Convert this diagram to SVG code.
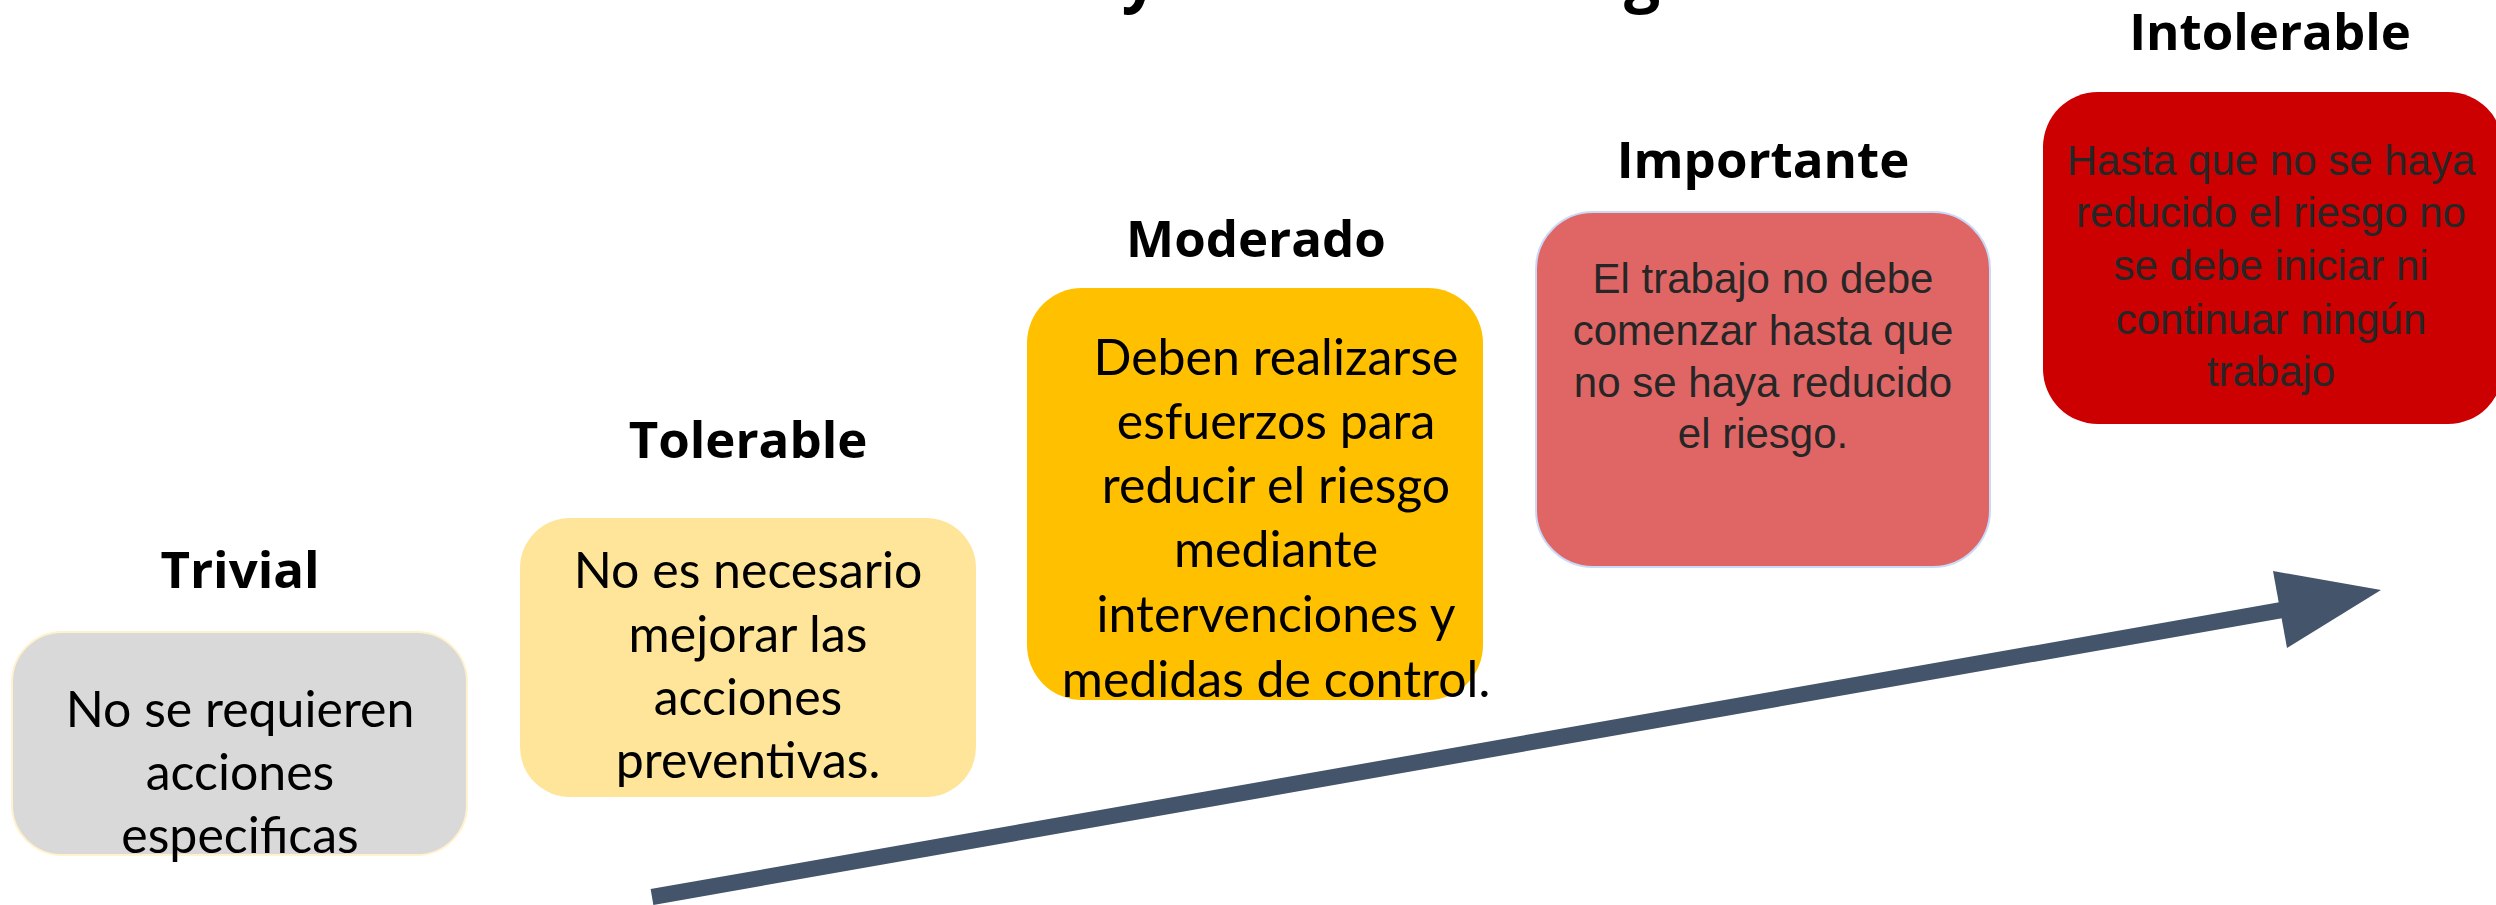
<svg xmlns="http://www.w3.org/2000/svg" width="2496" height="905" viewBox="0 0 2496 905">
<style>
.title{font-family:"Open Sans","Noto Sans",sans-serif;font-weight:700;font-size:51px;fill:#000;text-anchor:middle}
.body{font-family:Lato,"Open Sans",sans-serif;font-size:50px;fill:#000;text-anchor:middle}
.arial{font-family:"Liberation Sans",Arial,sans-serif;font-size:42px;fill:#262626;text-anchor:middle}
</style>
<rect width="2496" height="905" fill="#ffffff"/>
<g id="title-fragments">
<text x="1140" y="-1" class="title" style="font-size:64px">y</text>
<text x="1642" y="-1" class="title" style="font-size:64px">g</text>
</g>
<g id="connectors">
<line x1="652" y1="897" x2="2282" y2="610" stroke="#44546a" stroke-width="16"/>
<polygon points="2273,571 2381,590 2287,648" fill="#44546a"/>
</g>
<g id="trivial">
<text x="240" y="588" class="title">Trivial</text>
<rect x="12" y="632" width="455" height="223" rx="50" fill="#d9d9d9" stroke="#fff2cc" stroke-width="2"/>
<text class="body"><tspan x="240" y="727">No se requieren</tspan><tspan x="240" y="790">acciones</tspan><tspan x="240" y="853">especificas</tspan></text>
</g>
<g id="tolerable">
<text x="748" y="458" class="title">Tolerable</text>
<rect x="520" y="518" width="456" height="279" rx="50" fill="#ffe599"/>
<text class="body"><tspan x="748" y="588">No es necesario</tspan><tspan x="748" y="652">mejorar las</tspan><tspan x="748" y="715">acciones</tspan><tspan x="748" y="778">preventivas.</tspan></text>
</g>
<g id="moderado">
<text x="1256" y="257" class="title">Moderado</text>
<rect x="1027" y="288" width="456" height="412" rx="55" fill="#ffc000"/>
<text class="body"><tspan x="1276" y="375">Deben realizarse</tspan><tspan x="1276" y="439">esfuerzos para</tspan><tspan x="1276" y="503">reducir el riesgo</tspan><tspan x="1276" y="567">mediante</tspan><tspan x="1276" y="632">intervenciones y</tspan><tspan x="1276" y="697">medidas de control.</tspan></text>
</g>
<g id="importante">
<text x="1763" y="178" class="title">Importante</text>
<rect x="1536" y="212" width="454" height="355" rx="57" fill="#e06666" stroke="#c9daf8" stroke-width="2"/>
<text class="arial"><tspan x="1763" y="293">El trabajo no debe</tspan><tspan x="1763" y="345">comenzar hasta que</tspan><tspan x="1763" y="397">no se haya reducido</tspan><tspan x="1763" y="448">el riesgo.</tspan></text>
</g>
<g id="intolerable">
<text x="2270" y="50" class="title">Intolerable</text>
<rect x="2043" y="92" width="460" height="332" rx="55" fill="#cc0000"/>
<text class="arial"><tspan x="2271" y="175">Hasta que no se haya</tspan><tspan x="2271" y="227">reducido el riesgo no</tspan><tspan x="2271" y="280">se debe iniciar ni</tspan><tspan x="2271" y="334">continuar ningún</tspan><tspan x="2271" y="386">trabajo</tspan></text>
</g>
</svg>
